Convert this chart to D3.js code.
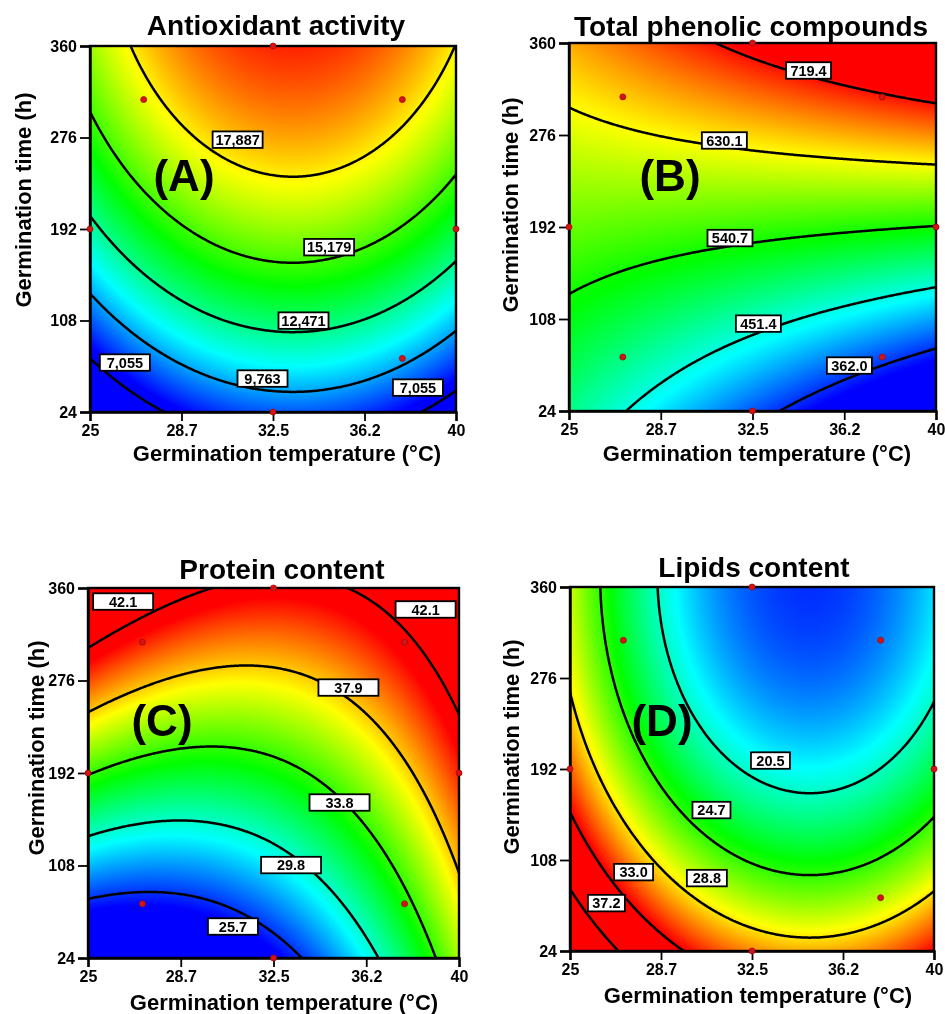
<!DOCTYPE html>
<html>
<head>
<meta charset="utf-8">
<script src="https://cdn.jsdelivr.net/npm/d3@7"></script>
<style>
  html, body { margin: 0; padding: 0; background: #fff; }
  #wrap { position: relative; width: 945px; height: 1014px; overflow: hidden; }
  #surf, #chart { position: absolute; left: 0; top: 0; }
  text { font-family: "Liberation Sans", Arial, Helvetica, sans-serif; font-weight: bold; }
</style>
</head>
<body>
<div id="wrap">
  <canvas id="surf" width="945" height="1014"></canvas>
  <svg id="chart" width="945" height="1014"></svg>
</div>
<script>
// ---------------- DATA ----------------
const xTicks = [25, 28.75, 32.5, 36.25, 40];
const xTickLabels = ["25", "28.7", "32.5", "36.2", "40"];
const yTicks = [24, 108, 192, 276, 360];
const yTickLabels = ["24", "108", "192", "276", "360"];
const tempDomain = [25, 40];
const timeDomain = [24, 360];

// central composite design (coded centre / step of each factor)
const codingCenter = [32.5, 192];
const codingStep = [5.3, 118.8];
const designTemps = [27.2, 37.8, 27.2, 37.8, 25, 40, 32.5, 32.5];
const designTimes = [73.2, 73.2, 310.8, 310.8, 192, 192, 24, 360];

const titles = ["Antioxidant activity", "Total phenolic compounds", "Protein content", "Lipids content"];
const letters = ["(A)", "(B)", "(C)", "(D)"];

// quadratic response-surface coefficients, coded units: [b0, bT, bt, bTT, btt, bTt]
const coefA = [16287, 532, 4189, -1739, -815, 0];
const coefB = [556, -11.9, 126, 0, 0, 45];
const coefC = [33.05, 2.339, 6.01, 2.092, 0, -1.795];
const coefD = [20.19, -3.015, -4.94, 3.35, 1.64, 0];

// contour levels
const levelsA = [7055, 9763, 12471, 15179, 17887];
const levelsB = [362.0, 451.4, 540.7, 630.1, 719.4];
const levelsC = [25.7, 29.8, 33.8, 37.9, 42.1];
const levelsD = [20.5, 24.7, 28.8, 33.0, 37.2];

// colour-scale range of each response
const colorRangeA = [7600, 21070];
const colorRangeB = [345, 725];
const colorRangeC = [24.9, 41.1];
const colorRangeD = [15.0, 32.8];

// contour labels: text, and the (temperature, time) where each sits
const labelTextA = ["7,055", "7,055", "9,763", "12,471", "15,179", "17,887"];
const labelTempA = [26.43, 38.44, 32.07, 33.75, 34.8, 31.05];
const labelTimeA = [69.4, 46.4, 54.7, 107.9, 175.3, 274];
const labelTextB = ["719.4", "630.1", "540.7", "451.4", "362.0"];
const labelTempB = [34.79, 31.35, 31.58, 32.74, 36.46];
const labelTimeB = [334.9, 271, 181.9, 103.8, 65.5];
const labelTextC = ["42.1", "42.1", "37.9", "33.8", "29.8", "25.7"];
const labelTempC = [26.42, 38.65, 35.53, 35.17, 33.21, 30.86];
const labelTimeC = [347.7, 340.5, 269.6, 165.2, 108.4, 52.6];
const labelTextD = ["20.5", "24.7", "28.8", "33.0", "37.2"];
const labelTempD = [33.26, 30.83, 30.64, 27.62, 26.50];
const labelTimeD = [199.8, 154.1, 91.3, 96.8, 68.2];

const xAxisTitle = "Germination temperature (°C)";
const yAxisTitle = "Germination time (h)";
const rampColors = ["#0000ff", "#00ffff", "#00ff00", "#ffff00", "#ff0000"];

// ---------------- LAYOUT (styles/positions) ----------------
const layout = [
  { x0: 90, x1: 456, y0: 46, y1: 412, title: [276, 35], letter: [184, 191], xl: [287, 461], yl: [31, 200], boxW: [50,50,50,50,50,50] },
  { x0: 569, x1: 936, y0: 43, y1: 411, title: [751, 36], letter: [670, 191], xl: [757, 461], yl: [518, 205], boxW: [45,45,45,45,45] },
  { x0: 88, x1: 459, y0: 588, y1: 958, title: [282, 579], letter: [162, 736], xl: [284, 1010], yl: [44, 748], boxW: [60,60,60,60,60,50] },
  { x0: 570, x1: 934, y0: 587, y1: 951, title: [754, 577], letter: [662, 736], xl: [758, 1003], yl: [519, 747], boxW: [39,38,40,39,37] }
];

const panels = [
  { coef: coefA, levels: levelsA, cr: colorRangeA, lt: labelTextA, lT: labelTempA, lt2: labelTimeA },
  { coef: coefB, levels: levelsB, cr: colorRangeB, lt: labelTextB, lT: labelTempB, lt2: labelTimeB },
  { coef: coefC, levels: levelsC, cr: colorRangeC, lt: labelTextC, lT: labelTempC, lt2: labelTimeC },
  { coef: coefD, levels: levelsD, cr: colorRangeD, lt: labelTextD, lT: labelTempD, lt2: labelTimeD }
];

const svg = d3.select("#chart");
const ctx = document.getElementById("surf").getContext("2d");
ctx.fillStyle = "#fff"; ctx.fillRect(0, 0, 945, 1014);
const defs = svg.append("defs");

function model(c, T, t) {
  const u = (T - codingCenter[0]) / codingStep[0];
  const v = (t - codingCenter[1]) / codingStep[1];
  return c[0] + c[1]*u + c[2]*v + c[3]*u*u + c[4]*v*v + c[5]*u*v;
}

panels.forEach((p, k) => {
  const L = layout[k];
  const x = d3.scaleLinear().domain(tempDomain).range([L.x0, L.x1]);
  const y = d3.scaleLinear().domain(timeDomain).range([L.y1, L.y0]);
  const [lo, hi] = p.cr;
  const color = d3.scaleLinear()
    .domain(d3.range(5).map(i => lo + i * (hi - lo) / 4))
    .range(rampColors).clamp(true).interpolate(d3.interpolateRgb);

  // surface raster
  const w = L.x1 - L.x0, h = L.y1 - L.y0;
  const img = ctx.createImageData(w, h);
  for (let j = 0; j < h; j++) {
    const t = y.invert(L.y0 + j + 0.5);
    for (let i = 0; i < w; i++) {
      const T = x.invert(L.x0 + i + 0.5);
      const c = d3.rgb(color(model(p.coef, T, t)));
      const o = (j * w + i) * 4;
      img.data[o] = c.r; img.data[o+1] = c.g; img.data[o+2] = c.b; img.data[o+3] = 255;
    }
  }
  ctx.putImageData(img, L.x0, L.y0);

  const g = svg.append("g");
  const clipId = "clip" + k;
  defs.append("clipPath").attr("id", clipId).append("rect")
    .attr("x", L.x0).attr("y", L.y0).attr("width", w).attr("height", h);

  // contour lines
  const n = 260, m = 260;
  const Tmin = 24.6, Tmax = 40.4, tmin = 15, tmax = 369;
  const dT = (Tmax - Tmin) / (n - 1), dt = (tmax - tmin) / (m - 1);
  const values = new Float64Array(n * m);
  for (let j = 0; j < m; j++) for (let i = 0; i < n; i++)
    values[j * n + i] = model(p.coef, Tmin + i * dT, tmin + j * dt);
  const contours = d3.contours().size([n, m]).smooth(true).thresholds(p.levels)(values);
  const toPx = pt => [x(Tmin + (pt[0] - 0.5) * dT), y(tmin + (pt[1] - 0.5) * dt)];
  const line = d3.line();
  g.append("g").attr("clip-path", `url(#${clipId})`)
    .selectAll("path").data(contours).join("path")
    .attr("d", c => c.coordinates.map(poly => poly.map(ring => line(ring.map(toPx)) + "Z").join("")).join(""))
    .attr("fill", "none").attr("stroke", "#000").attr("stroke-width", 2.5).attr("stroke-linejoin", "round");

  // frame
  g.append("rect").attr("x", L.x0).attr("y", L.y0).attr("width", w).attr("height", h)
    .attr("fill", "none").attr("stroke", "#000").attr("stroke-width", 2.4);

  // axes
  const xAxis = d3.axisBottom(x).tickValues(xTicks).tickFormat((d, i) => xTickLabels[i]).tickSize(9).tickPadding(4);
  const yAxis = d3.axisLeft(y).tickValues(yTicks).tickFormat((d, i) => yTickLabels[i]).tickSize(10).tickPadding(3);
  const gx = g.append("g").attr("transform", `translate(0,${L.y1})`).call(xAxis);
  const gy = g.append("g").attr("transform", `translate(${L.x0},0)`).call(yAxis);
  [gx, gy].forEach(a => {
    a.select(".domain").attr("stroke-width", 2.4);
    a.selectAll(".tick line").attr("stroke-width", 1.8);
    a.selectAll(".tick text").attr("font-size", 16).attr("font-weight", "bold")
      .attr("font-family", '"Liberation Sans", Arial, sans-serif').attr("fill", "#000");
  });

  // design points
  g.append("g").selectAll("circle").data(designTemps.map((T, i) => [T, designTimes[i]])).join("circle")
    .attr("cx", d => x(d[0])).attr("cy", d => y(d[1])).attr("r", 3)
    .attr("fill", "#d41414").attr("stroke", "#a00a0a").attr("stroke-width", 0.8);

  // contour labels
  const bh = 16.5;
  const lab = g.append("g").selectAll("g").data(p.lt.map((s, i) => ({ s, T: p.lT[i], t: p.lt2[i], w: L.boxW[i] }))).join("g")
    .attr("transform", d => `translate(${x(d.T)},${y(d.t)})`);
  lab.append("rect").attr("x", d => -d.w / 2).attr("y", -bh / 2).attr("width", d => d.w).attr("height", bh)
    .attr("fill", "#fff").attr("stroke", "#000").attr("stroke-width", 1.8);
  lab.append("text").attr("text-anchor", "middle").attr("dy", "0.36em")
    .attr("font-size", 14.5).text(d => d.s);

  // panel letter
  g.append("text").attr("x", L.letter[0]).attr("y", L.letter[1]).attr("text-anchor", "middle")
    .attr("font-size", 44).text(letters[k]);

  // title
  g.append("text").attr("x", L.title[0]).attr("y", L.title[1]).attr("text-anchor", "middle")
    .attr("font-size", 28).text(titles[k]);

  // axis titles
  g.append("text").attr("x", L.xl[0]).attr("y", L.xl[1]).attr("text-anchor", "middle")
    .attr("font-size", 22).text(xAxisTitle);
  g.append("text").attr("transform", `translate(${L.yl[0]},${L.yl[1]}) rotate(-90)`).attr("text-anchor", "middle")
    .attr("font-size", 22).text(yAxisTitle);
});
</script>
</body>
</html>
